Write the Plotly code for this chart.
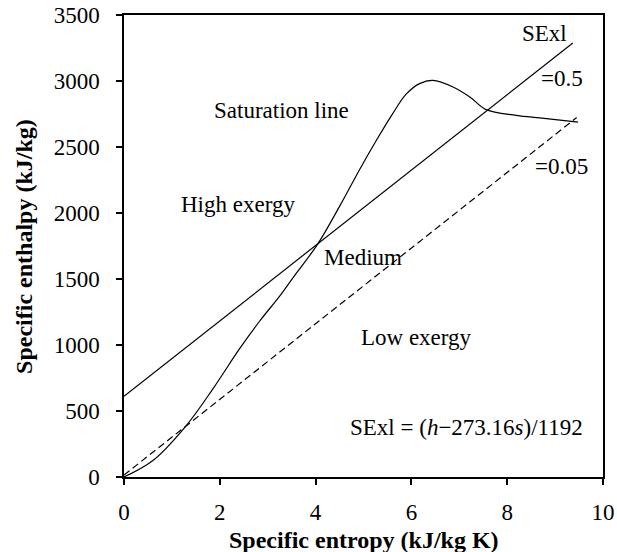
import plotly.graph_objects as go

# Saturation line of water in the h-s plane (kJ/kg vs kJ/kg K)
sat_s = [0, 0.61, 1.30, 1.86, 2.41, 2.83, 3.25, 3.53, 4.05, 4.50, 4.92, 5.27,
         5.61, 5.89, 6.17, 6.45, 6.87, 7.22, 7.56, 8.19, 8.68, 9.48]
sat_h = [0, 127, 390, 670, 970, 1180, 1370, 1510, 1768, 2050, 2330, 2551,
         2753, 2900, 2980, 3005, 2955, 2879, 2783, 2740, 2720, 2689]

# Iso-SExl lines
sexl_05_s = [0, 9.37]
sexl_05_h = [611, 3288]
sexl_005_s = [0, 9.45]
sexl_005_h = [15, 2723]

x_ticks = [0, 2, 4, 6, 8, 10]
y_ticks = [0, 500, 1000, 1500, 2000, 2500, 3000, 3500]

FONT = "Liberation Serif, Times New Roman, serif"
FS = 23

fig = go.Figure()
fig.add_trace(go.Scatter(x=sat_s, y=sat_h, mode="lines",
                         line=dict(color="black", width=1.2, shape="spline", smoothing=1.0),
                         showlegend=False, hoverinfo="skip"))
fig.add_trace(go.Scatter(x=sexl_05_s, y=sexl_05_h, mode="lines",
                         line=dict(color="black", width=1.2),
                         showlegend=False, hoverinfo="skip"))
fig.add_trace(go.Scatter(x=sexl_005_s, y=sexl_005_h, mode="lines",
                         line=dict(color="black", width=1.2, dash="7px,4px"),
                         showlegend=False, hoverinfo="skip"))

labels = [
    ("Saturation line", 3.29, 2778),
    ("High exergy", 2.39, 2066),
    ("Medium", 4.98, 1664),
    ("SExl", 8.78, 3361),
    ("=0.5", 9.15, 3018),
    ("=0.05", 9.14, 2352),
    ("Low exergy", 6.11, 1058),
    ("SExl = (<i>h</i>\u2212273.16<i>s</i>)/1192", 7.15, 376),
]
for text, x, y in labels:
    fig.add_annotation(x=x, y=y, text=text, showarrow=False,
                       font=dict(family=FONT, size=FS, color="black"),
                       xanchor="center", yanchor="middle")

# Axis titles placed in paper coordinates so the plot area stays fixed
title_font = dict(family=FONT, size=24, color="black")
fig.add_annotation(x=0.5, y=-0.136, xref="paper", yref="paper",
                   text="<b>Specific entropy (kJ/kg K)</b>", showarrow=False,
                   font=title_font, xanchor="center", yanchor="middle")
fig.add_annotation(x=-0.209, y=0.5, xref="paper", yref="paper",
                   text="<b>Specific enthalpy (kJ/kg)</b>", showarrow=False,
                   font=title_font, textangle=-90, xanchor="center", yanchor="middle")

axis_common = dict(showline=True, linecolor="black", linewidth=1.5, mirror=True,
                   ticks="outside", ticklen=6, tickwidth=1.5, tickcolor="black",
                   showgrid=False, zeroline=False, automargin=False,
                   tickfont=dict(family=FONT, size=FS, color="black"))

fig.update_xaxes(range=[0, 10], tickvals=x_ticks, ticklabelstandoff=8, **axis_common)
fig.update_yaxes(range=[0, 3500], tickvals=y_ticks, ticklabelstandoff=12, **axis_common)

fig.update_layout(width=617, height=552,
                  margin=dict(l=124, r=14, t=15, b=75),
                  plot_bgcolor="white", paper_bgcolor="white")

fig.write_html("out.html")
